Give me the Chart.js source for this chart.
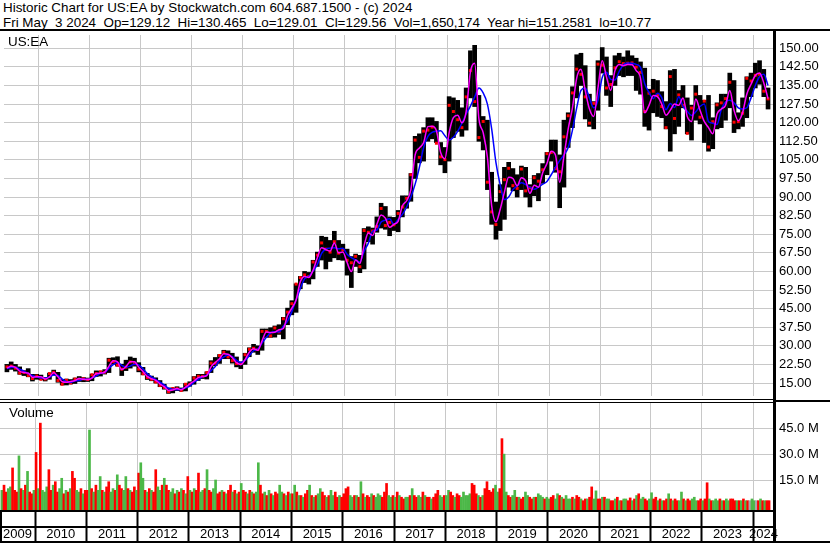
<!DOCTYPE html>
<html>
<head>
<meta charset="utf-8">
<title>Historic Chart for US:EA</title>
<script src="https://cdn.jsdelivr.net/npm/chart.js@4"></script>
<style>
  body { margin: 0; background: #fff; }
  #page { position: relative; width: 830px; height: 543px; overflow: hidden; font-family: 'Liberation Sans', Arial, sans-serif; color: #000; }
  .txt { position: absolute; white-space: pre; font-size: 13.4px; line-height: 15px; }
  .ln { position: absolute; background: #000; }
  canvas { position: absolute; left: 0; }
</style>
</head>
<body>
<div id="page">
  <div class="txt" style="left:3px;top:0">Historic Chart for US:EA by Stockwatch.com 604.687.1500 - (c) 2024</div>
  <div class="txt" style="left:3px;top:15px">Fri May  3 2024  Op=129.12  Hi=130.465  Lo=129.01  Cl=129.56  Vol=1,650,174  Year hi=151.2581  lo=10.77</div>
  <canvas id="price" width="830" height="369" style="top:31px"></canvas>
  <canvas id="vol" width="830" height="140" style="top:403px"></canvas>
  <div class="txt" style="left:8px;top:34px">US:EA</div>
  <div class="txt" style="left:9px;top:405px">Volume</div>
  <!-- frame -->
  <div class="ln" style="left:0;top:29px;width:830px;height:2px"></div>
  <div class="ln" style="left:773px;top:29px;width:3px;height:514px"></div>
  <div class="ln" style="left:0;top:399px;width:773px;height:1px"></div>
  <div class="ln" style="left:0;top:402px;width:773px;height:1px"></div>
  <div class="ln" style="left:773px;top:400px;width:57px;height:2px"></div>
  <div class="ln" style="left:0;top:510px;width:773px;height:2px"></div>
  <div class="ln" style="left:0;top:526px;width:773px;height:2px"></div>
  <div class="ln" style="left:0;top:541px;width:830px;height:2px"></div>
  <div class="ln" style="left:0;top:510px;width:2px;height:33px"></div>
</div>
<script>
// months counted from Jan 2009; first bar = May 2009
const firstMonth = 4;

// ---- monthly price ranges (May 2009 .. Apr 2024) ----
const low = [
  19.5, 20.5, 19.8, 18.5, 18.0, 17.5, 15.8, 16.5,
  16.3, 15.8, 16.5, 18.2, 15.3, 14.2, 14.2, 14.6, 14.8, 15.6, 15.5, 15.6,
  15.9, 17.6, 17.8, 18.6, 19.2, 22.6, 21.8, 18.0, 20.0, 21.0, 21.8, 19.5,
  18.3, 16.4, 15.9, 15.0, 13.5, 12.5, 10.8, 11.0, 11.9, 11.7, 11.8, 13.7,
  14.5, 16.0, 16.8, 16.6, 19.2, 22.0, 22.9, 24.8, 24.8, 23.0, 21.5, 20.8,
  22.5, 25.6, 27.4, 26.5, 28.2, 33.4, 33.4, 33.5, 34.6, 32.8, 38.5, 42.5,
  43.5, 53.0, 55.5, 54.9, 57.0, 62.0, 64.6, 61.0, 64.0, 65.5, 64.7, 64.5,
  58.5, 53.5, 62.0, 59.5, 61.0, 72.0, 71.0, 75.8, 77.5, 77.0, 74.4, 76.5,
  76.0, 82.0, 85.5, 88.3, 97.5, 103.8, 104.5, 112.5, 113.5, 112.0, 103.0, 99.8,
  104.5, 114.0, 116.5, 114.5, 117.0, 130.0, 126.5, 112.5, 109.0, 93.0, 79.0, 73.0,
  76.5, 81.0, 94.0, 92.5, 90.0, 93.0, 90.0, 86.0, 90.5, 88.5, 95.5, 99.0,
  104.5, 100.0, 85.7, 94.0, 110.0, 118.0, 130.0, 135.0, 121.5, 118.5, 117.5, 125.0,
  140.0, 131.0, 126.5, 135.0, 139.0, 138.5, 139.0, 139.0, 133.0, 131.5, 118.5, 117.0,
  124.0, 122.5, 122.0, 117.5, 108.5, 115.5, 118.5, 126.0, 115.5, 113.0, 121.0, 119.5,
  112.0, 108.5, 109.5, 117.5, 118.0, 121.0, 126.0, 116.0, 117.5, 118.5, 122.0, 130.5,
  134.0, 135.5, 130.5, 125.5
];
const high = [
  22.5, 23.5, 22.5, 21.5, 20.0, 20.8, 18.5, 18.5,
  18.2, 17.2, 19.0, 20.2, 19.3, 16.4, 16.6, 16.4, 17.0, 17.6, 17.2, 17.0,
  18.6, 19.9, 19.8, 20.4, 25.0, 25.2, 25.6, 22.6, 24.2, 25.5, 25.0, 23.2,
  21.3, 18.9, 17.8, 17.1, 16.0, 14.5, 13.0, 13.0, 13.5, 13.0, 14.8, 15.5,
  17.6, 18.5, 18.5, 19.5, 24.0, 25.3, 26.5, 28.2, 28.0, 27.0, 25.5, 23.5,
  27.0, 29.2, 30.6, 30.0, 36.8, 36.8, 37.3, 38.0, 38.5, 41.5, 45.2, 48.2,
  55.0, 58.0, 60.0, 59.6, 64.5, 67.8, 74.2, 73.8, 72.5, 76.2, 72.5, 71.0,
  69.0, 66.0, 67.0, 66.5, 77.3, 78.0, 77.5, 82.0, 87.5, 86.2, 82.0, 81.8,
  84.6, 90.5, 90.5, 99.5, 114.5, 115.5, 118.0, 122.0, 122.0, 120.5, 112.0, 110.0,
  130.5, 130.0, 129.0, 126.0, 134.0, 149.0, 151.2, 131.0, 122.5, 121.0, 100.0, 88.0,
  95.0, 102.0, 104.0, 101.5, 99.0, 102.5, 102.0, 95.0, 98.7, 99.5, 103.5, 108.0,
  113.0, 113.0, 107.0, 121.0, 124.0, 134.5, 147.4, 148.0, 143.0, 131.5, 128.5, 145.0,
  150.3, 146.5, 139.0, 147.0, 148.0, 146.5, 149.0, 147.0, 146.0, 144.5, 142.0, 133.5,
  137.5, 137.0, 132.5, 128.5, 141.0, 141.5, 133.0, 135.0, 130.0, 127.0, 135.0, 131.0,
  129.0, 131.0, 122.0, 128.0, 131.5, 131.5, 140.0, 137.0, 124.0, 130.0, 138.5, 140.0,
  144.0, 145.0, 141.5, 134.0
];
const close = [
  21.5, 21.8, 21.0, 19.0, 19.3, 18.0, 16.8, 17.8,
  16.5, 16.6, 18.8, 19.3, 16.0, 14.5, 16.1, 15.0, 16.6, 16.5, 16.7, 16.4,
  18.3, 18.8, 19.5, 19.3, 24.2, 23.6, 22.2, 20.6, 21.4, 23.5, 22.8, 20.6,
  18.7, 17.2, 16.5, 15.4, 14.0, 13.2, 11.5, 12.8, 12.7, 12.0, 14.5, 14.5,
  17.0, 17.7, 17.7, 19.2, 23.0, 23.0, 26.1, 27.4, 25.5, 24.0, 22.8, 23.0,
  26.4, 28.6, 29.0, 28.5, 35.8, 35.8, 34.0, 37.2, 35.6, 40.9, 43.6, 47.0,
  54.9, 57.5, 58.6, 58.0, 63.8, 66.6, 71.5, 69.0, 67.8, 72.0, 67.4, 68.7,
  64.5, 63.5, 66.1, 61.9, 76.5, 75.8, 76.3, 78.1, 85.4, 78.5, 79.8, 78.8,
  83.4, 86.0, 89.5, 99.0, 113.0, 106.0, 116.6, 117.0, 118.2, 111.7, 106.2, 105.1,
  127.0, 124.5, 121.2, 118.0, 130.4, 141.0, 128.5, 114.0, 120.5, 96.0, 84.0, 78.9,
  92.2, 97.0, 101.6, 94.6, 93.5, 101.3, 92.5, 93.7, 97.8, 96.4, 101.0, 107.5,
  108.0, 101.5, 100.2, 114.3, 122.8, 132.0, 141.6, 139.5, 130.4, 119.8, 127.8, 143.6,
  143.2, 134.0, 135.4, 142.1, 144.6, 143.8, 144.0, 144.1, 142.4, 140.3, 124.5, 131.9,
  132.7, 131.2, 126.5, 118.0, 138.6, 121.7, 131.2, 127.0, 115.7, 125.9, 131.5, 122.2,
  128.7, 110.2, 120.4, 127.2, 128.0, 129.7, 136.3, 120.2, 120.4, 123.8, 137.9, 136.8,
  139.1, 139.5, 132.7, 129.6
];
// short (magenta) and long (blue) moving averages
const maShort = [
  21.0, 21.8, 21.3, 19.8, 19.2, 19.0, 17.3, 17.5,
  17.5, 16.6, 17.5, 19.2, 17.5, 15.5, 15.3, 15.6, 16.0, 16.8, 16.5, 16.4,
  17.0, 18.8, 19.0, 19.4, 21.8, 24.0, 23.5, 20.4, 21.6, 23.6, 23.6, 21.4,
  19.6, 17.7, 16.7, 16.1, 14.6, 13.5, 12.0, 12.2, 12.8, 12.3, 13.3, 14.6,
  15.8, 17.2, 17.6, 18.0, 21.5, 23.3, 24.8, 26.8, 26.6, 25.2, 23.2, 22.4,
  24.4, 27.4, 28.8, 28.2, 32.0, 35.6, 35.4, 35.5, 36.5, 37.0, 42.2, 45.2,
  48.5, 55.8, 58.0, 57.6, 60.5, 65.5, 69.6, 68.8, 68.2, 71.5, 67.5, 67.8,
  63.6, 60.0, 64.6, 63.2, 70.5, 75.5, 74.5, 79.0, 82.8, 81.5, 77.8, 79.0,
  80.2, 86.4, 88.5, 93.0, 107.0, 109.8, 112.0, 118.4, 118.6, 116.8, 108.0, 105.5,
  116.0, 122.0, 123.0, 120.0, 124.5, 140.5, 144.0, 121.5, 116.0, 106.0, 86.5, 80.0,
  85.0, 92.0, 98.0, 97.5, 94.5, 97.8, 96.5, 91.5, 94.8, 94.0, 99.8, 103.5,
  108.5, 107.0, 96.0, 106.5, 117.5, 126.0, 138.0, 141.5, 133.0, 125.5, 122.5, 134.0,
  145.0, 138.5, 133.0, 141.0, 143.5, 143.0, 143.5, 143.4, 141.0, 138.0, 124.0, 127.0,
  131.0, 130.5, 127.5, 123.0, 125.0, 127.5, 127.0, 130.0, 122.5, 120.5, 129.5, 125.0,
  120.5, 118.0, 115.5, 123.5, 125.5, 127.0, 133.0, 125.0, 120.8, 124.0, 131.5, 135.5,
  139.0, 140.0, 136.0, 129.7
];
const maLong = [
  20.8, 21.2, 21.4, 20.6, 19.8, 18.8, 18.0, 17.5,
  17.0, 17.0, 17.3, 18.2, 18.0, 16.6, 15.5, 15.2, 15.9, 16.0, 16.6, 16.5,
  17.1, 17.8, 18.9, 19.2, 21.0, 22.4, 23.3, 22.1, 21.4, 21.8, 22.6, 22.3,
  20.7, 18.8, 17.5, 16.4, 15.3, 14.2, 12.9, 12.5, 12.3, 12.5, 13.1, 13.7,
  15.3, 16.4, 17.5, 18.2, 20.0, 21.7, 24.0, 25.5, 26.3, 25.6, 24.1, 23.3,
  24.1, 26.0, 28.0, 28.7, 31.1, 33.4, 35.2, 35.7, 35.6, 37.9, 40.0, 43.8,
  48.5, 53.1, 57.0, 58.0, 60.1, 62.8, 67.3, 69.0, 69.4, 69.6, 69.1, 69.4,
  66.9, 65.6, 64.7, 63.8, 68.2, 71.4, 76.2, 76.7, 79.9, 80.7, 81.2, 79.0,
  81.0, 83.0, 86.0, 90.0, 95.2, 102.0, 110.0, 114.5, 116.1, 116.5, 116.7, 114.7,
  113.0, 114.1, 116.5, 119.8, 123.5, 126.7, 130.3, 134.0, 132.0, 127.5, 117.5, 104.0,
  95.0, 89.0, 90.0, 93.0, 94.5, 95.8, 95.0, 94.0, 93.1, 94.0, 95.2, 96.3,
  99.0, 102.0, 104.7, 107.0, 110.0, 117.0, 126.0, 133.0, 134.0, 130.0, 126.0, 129.0,
  138.2, 140.3, 137.5, 137.2, 140.7, 143.5, 144.1, 144.0, 143.5, 142.3, 135.7, 132.2,
  129.7, 131.9, 130.1, 125.2, 127.7, 126.1, 130.5, 126.6, 124.6, 122.9, 124.4, 126.5,
  127.5, 120.4, 119.8, 119.3, 125.2, 128.3, 129.0, 128.0, 126.0, 125.5, 126.0, 130.0,
  135.0, 138.5, 139.5, 135.0
];

// ---- half-monthly volume, millions (May 2009 .. Apr 2024) ----
const volume = [
  9,12, 8,10, 11,22, 9,8, 29,10, 9,12, 20,8, 7,9,
  31,10, 48,9, 8,11, 21,9, 12,14, 8,10, 16,7, 9,8, 10,20, 16,9, 8,10, 7,9,
  9,44, 10,8, 12,9, 17,9, 8,11, 14,8, 10,9, 18,12, 10,9, 17,10, 9,8, 11,9,
  19,25, 16,9, 8,10, 9,8, 21,11, 9,12, 16,12, 9,8, 10,7, 9,8, 10,9, 7,17,
  9,8, 10,9, 19,8, 9,10, 21,9, 8,10, 15,7, 8,9, 8,7, 9,12, 8,9, 7,8,
  13,9, 8,7, 9,8, 7,8, 25,12, 7,8, 6,9, 7,6, 8,7, 12,8, 7,6, 8,7,
  7,12, 8,6, 6,5, 7,9, 12,6, 5,6, 7,10, 8,6, 5,6, 9,6, 8,5, 6,5,
  7,10, 11,6, 5,6, 6,5, 14,7, 5,6, 5,7, 6,5, 7,6, 5,8, 13,6, 5,6,
  5,8, 6,5, 4,5, 5,6, 10,6, 5,6, 5,8, 6,5, 5,4, 5,7, 9,6, 5,6,
  6,9, 8,6, 5,7, 6,5, 8,6, 6,7, 13,12, 7,6, 5,6, 10,14, 9,8, 10,12,
  8,10, 39,30, 8,6, 5,6, 9,5, 5,4, 5,8, 6,5, 4,5, 5,7, 6,5, 4,5,
  4,5, 6,4, 7,6, 5,4, 6,4, 4,5, 4,6, 5,4, 3,4, 4,5, 11,4, 8.7,4,
  4,5, 5,4, 4,3, 3,4, 5,3, 3,4, 4,3, 4.6,3, 4,6, 7,4, 5,4, 3,4,
  7.6,4, 5,3, 4,3, 3,4, 7,4, 3,4, 3,3, 8,4, 3,4, 3,4, 5,3, 3,4,
  3,4, 13.4,4, 3,3, 4,3, 4,3, 3,4, 3,4, 4,3, 3,3, 3,4, 3,3, 3,4,
  3,3, 3,4, 3,3, 3,3
];
// g = up, r = down, n = unchanged
const volDir = [
  'grrggrrrgrgrgrrg',
  'rgrgggrrgrrggrgrgrrggrgr',
  'rgrgrggrgrrggrgrrggrgrrg',
  'rggrgrgrrggrgrrggrgrgrgr',
  'grgrrggrgrrggrrgrgrrgrgr',
  'grrgrgrggrrgrgrgrrggrgrg',
  'rgrgrgrrgrgrggrrgrggrrgr',
  'rrrggrgrgrgrrgrgggrrrggr',
  'grgrrggrgrrggrgrrgrrrggr',
  'ggrrgrrgggggrrrgrgrrrrrg',
  'grrggrrggrgrrggrrgrgggrg',
  'grrggrgrgggrgrrgrrgrrggr',
  'rgrggrrgrgrggrrgrgrggrrg',
  'grrgrgrrgrgrrggrgrrgggrr',
  'grrgrgggrgrggrrrgrgrgrng',
  'gnrgrgrr'
].join('');

const yearLabels = ['2009','2010','2011','2012','2013','2014','2015','2016',
                    '2017','2018','2019','2020','2021','2022','2023','2024'];
const priceTicks = [15, 22.5, 30, 37.5, 45, 52.5, 60, 67.5, 75, 82.5, 90, 97.5,
                    105, 112.5, 120, 127.5, 135, 142.5, 150];
const volTicks = [15, 30, 45];

// ---- layout of scales ----
const X_MIN = 3.81, X_MAX = 184.9;
const yearStarts = yearLabels.slice(1).map((y, i) => (i + 1) * 12);
const labelAt = yearLabels.map((y, i) => (Math.max(X_MIN, i * 12) + Math.min(X_MAX, i * 12 + 12)) / 2);
const isStart = v => yearStarts.some(s => Math.abs(s - v) < 1e-6);

const FONT = { family: "'Liberation Sans', Arial, sans-serif", size: 13 };
const GRID = '#c8c8c8';
Chart.defaults.color = '#000';
Chart.defaults.font = FONT;

const mid = i => firstMonth + i + 0.5;
const pts = arr => arr.map((v, i) => ({ x: mid(i), y: v }));
const noPlugins = { legend: { display: false }, tooltip: { enabled: false } };
const fitX = h => s => { s.height = h; s.paddingLeft = 0; s.paddingRight = 0; };
const fitY = s => { s.width = 56; s.paddingTop = 0; s.paddingBottom = 0; };

// set y min/max so that tick v1 lands on canvas row p1 and v2 on row p2
function pin(chart, v1, p1, v2, p2) {
  const a = chart.chartArea, k = (p2 - p1) / (v2 - v1), o = chart.options.scales.y;
  o.max = v1 + (a.top - p1) / k;
  o.min = v1 + (a.bottom - p1) / k;
  return o.min;
}

const priceChart = new Chart(document.getElementById('price'), {
  type: 'bar',
  data: {
    datasets: [
      { type: 'line', data: pts(maShort), borderColor: '#ff00ff', borderWidth: 1.5,
        pointRadius: 0, cubicInterpolationMode: 'monotone', order: 1 },
      { type: 'line', data: pts(maLong), borderColor: '#0000ff', borderWidth: 1.5,
        pointRadius: 0, cubicInterpolationMode: 'monotone', order: 2 },
      { type: 'line', data: pts(close), showLine: false, pointStyle: 'rect', pointRadius: 2.1,
        pointBackgroundColor: '#ff0000', pointBorderWidth: 0, order: 3 },
      { type: 'bar', data: low.map((v, i) => ({ x: mid(i), y: [v, high[i]] })),
        backgroundColor: '#000', barThickness: 4, order: 4 }
    ]
  },
  options: {
    responsive: false, animation: false,
    layout: { padding: 0 },
    plugins: noPlugins,
    scales: {
      x: { type: 'linear', min: X_MIN, max: X_MAX, offset: false,
           afterBuildTicks: s => { s.ticks = yearStarts.map(v => ({ value: v })); },
           afterFit: fitX(0),
           ticks: { display: false },
           grid: { color: GRID, drawTicks: false, offset: false },
           border: { display: false } },
      y: { position: 'right', min: 7, max: 157,
           afterBuildTicks: s => { s.ticks = priceTicks.map(v => ({ value: v })); },
           afterFit: fitY,
           ticks: { padding: 5, autoSkip: false, callback: v => v.toFixed(2) },
           grid: { color: GRID, drawTicks: false },
           border: { display: false } }
    }
  }
});
pin(priceChart, 150, 17.3, 15, 352);
priceChart.update();

const volColor = { g: '#4cb848', r: '#ff0000', n: '#a8a8a8' };
const volChart = new Chart(document.getElementById('vol'), {
  type: 'bar',
  data: {
    datasets: [{
      data: volume.map((v, i) => ({ x: firstMonth + i / 2 + 0.25, y: v })),
      backgroundColor: volume.map((v, i) => volColor[volDir[i]]),
      barThickness: 2, base: -2
    }]
  },
  options: {
    responsive: false, animation: false,
    layout: { padding: 0 },
    plugins: noPlugins,
    scales: {
      x: { type: 'linear', min: X_MIN, max: X_MAX, offset: false,
           afterBuildTicks: s => {
             s.ticks = yearStarts.concat(labelAt).sort((a, b) => a - b).map(v => ({ value: v }));
           },
           afterFit: fitX(33),
           ticks: { autoSkip: false, maxRotation: 0, padding: -14,
                    callback: v => { const k = labelAt.findIndex(a => Math.abs(a - v) < 1e-6); return k < 0 ? '' : yearLabels[k]; } },
           grid: { offset: false, tickLength: 31, tickWidth: 2,
                   color: c => (c.tick && isStart(c.tick.value)) ? GRID : 'rgba(0,0,0,0)',
                   tickColor: c => (c.tick && isStart(c.tick.value)) ? '#000' : 'rgba(0,0,0,0)' },
           border: { display: false } },
      y: { position: 'right', min: -2, max: 60,
           afterBuildTicks: s => { s.ticks = volTicks.map(v => ({ value: v })); },
           afterFit: fitY,
           ticks: { padding: 5, callback: v => v.toFixed(1) + ' M' },
           grid: { color: GRID, drawTicks: false },
           border: { display: false } }
    }
  }
});
volChart.data.datasets[0].base = pin(volChart, 45, 25.3, 15, 77);
volChart.update();
</script>
</body>
</html>
